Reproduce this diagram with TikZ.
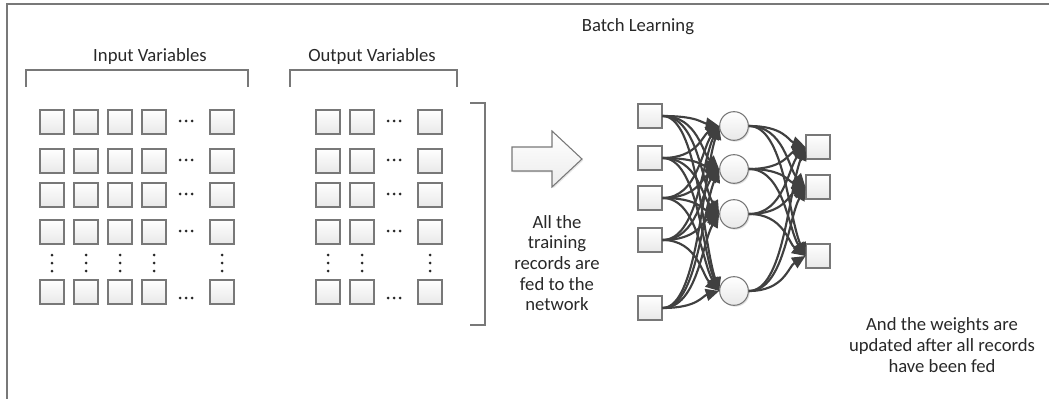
\documentclass[tikz,border=0pt]{standalone}
\usepackage{fontspec}
\setmainfont{Carlito}
\usetikzlibrary{arrows.meta,shadows,calc}
\definecolor{edge}{RGB}{64,64,64}
\definecolor{rim}{RGB}{120,120,120}
\definecolor{ink}{RGB}{40,40,40}

\begin{document}
\begin{tikzpicture}[x=0.75pt,y=-0.75pt,>={Triangle[length=10pt,width=9pt]},
    cell/.style={draw=rim,line width=0.8pt,minimum size=18pt,inner sep=0pt,
        top color=white,bottom color=gray!18,
        drop shadow={shadow xshift=1pt,shadow yshift=-1pt,opacity=0.25,fill=gray}},
    unit/.style={cell,circle,minimum size=21.5pt},
    txt/.style={font=\fontsize{14}{15.5}\selectfont,text=ink,align=center},
    dot/.style={fill=ink},
    link/.style={->,draw=edge,line width=1.6pt},
    frame/.style={draw=rim,line width=0.8pt}]
    \useasboundingbox (0,0) rectangle (1049,399);
    \draw[frame] (7,399) -- (7,4) -- (1049,4);

    % titles and brackets
    \node[txt] (title) at (638,27) {Batch Learning};
    \node[txt] (inlab) at (150,57) {Input Variables};
    \node[txt] (outlab) at (372,57) {Output Variables};
    \draw[frame] (26,87) -- (26,70) -- (248,70) -- (248,87);
    \draw[frame] (290,87) -- (290,70) -- (457,70) -- (457,87);
    \draw[frame] (470,103) -- (485,103) -- (485,325) -- (470,325);

    % input and output tables
    \foreach \r/\yy in {1/122,2/161,3/195,4/232,5/292} {
      \foreach \c/\xx in {1/52,2/86,3/120,4/154,6/222}
        \node[cell] (in-\r-\c) at (\xx,\yy) {};
      \foreach \c/\xx in {1/328,2/362,4/430}
        \node[cell] (out-\r-\c) at (\xx,\yy) {};
    }
    % dots
    \foreach \yy in {121,160,194,231,298}
      \foreach \xx in {186,394}
        \foreach \d in {-6,0,6}
          \fill[dot] (\xx+\d,\yy) circle (1.5);
    \foreach \xx in {52,86,120,154,222,328,362,430}
      \foreach \d in {-8,0,8}
        \fill[dot] (\xx,263+\d) circle (1.5);

    % feed arrow
    \draw[draw=rim,line width=0.8pt,top color=white,bottom color=gray!15,
        drop shadow={shadow xshift=1pt,shadow yshift=-1pt,opacity=0.2,fill=gray}]
        (512,147) -- (552,147) -- (552,131) -- (582,159) -- (552,187)
        -- (552,171) -- (512,171) -- cycle;
    \node[txt] (feedlab) at (557,263) {All the\\training\\records are\\fed to the\\network};

    % network
    \foreach \i/\yy in {1/116,2/158,3/198,4/240,5/308}
      \node[cell] (x\i) at (650,\yy) {};
    \foreach \j/\yy in {1/126,2/169,3/214,4/291}
      \node[unit] (h\j) at (734,\yy) {};
    \foreach \k/\yy in {1/147,2/187,3/256}
      \node[cell] (y\k) at (818,\yy) {};
    \foreach \i in {1,...,5}
      \foreach \j in {1,...,4}
        \draw[link] (x\i.east) .. controls +(35,0) and ($(h\j.west)!0.3!(x\i.east)$) .. (h\j.west);
    \foreach \j in {1,...,4}
      \foreach \k in {1,...,3}
        \draw[link] (h\j.east) .. controls +(35,0) and ($(y\k.west)!0.3!(h\j.east)$) .. (y\k.west);

    \node[txt] (updlab) at (942,345) {And the weights are\\updated after all records\\have been fed};
\end{tikzpicture}
\end{document}
